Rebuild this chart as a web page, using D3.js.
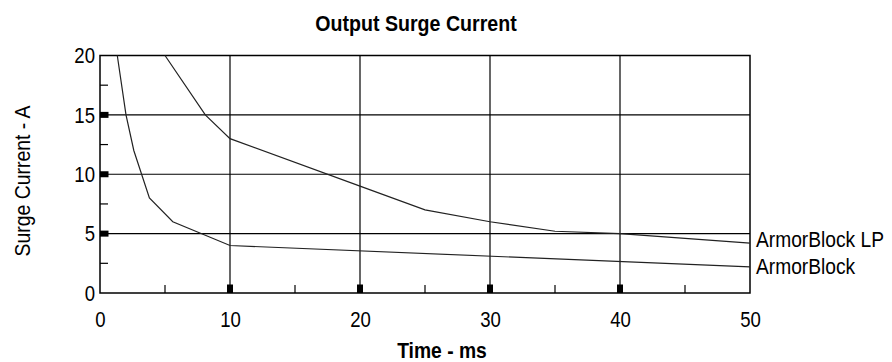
<!DOCTYPE html>
<html>
<head>
<meta charset="utf-8">
<script src="https://cdn.jsdelivr.net/npm/d3@7"></script>
<style>
  body { margin: 0; background: #fff; }
  text { font-family: "Liberation Sans", Arial, sans-serif; fill: #000; }
</style>
</head>
<body>
<figure id="surge" style="margin:0"></figure>
<script>
// values
const timeTicks = [0, 10, 20, 30, 40, 50];
const minorTimeTicks = [5, 15, 25, 35, 45];
const currentTicks = [0, 5, 10, 15, 20];
const minorCurrentTicks = [2.5, 7.5, 12.5, 17.5];

const lpTime =    [5, 8.1, 10, 20, 25, 30, 35, 40, 50];
const lpCurrent = [20, 15, 13, 9, 7, 6, 5.2, 5, 4.2];

const abTime =    [1.33, 2.0, 2.6, 3.8, 5.6, 10, 50];
const abCurrent = [20, 15, 12, 8, 6, 4, 2.2];

const seriesNames = ["ArmorBlock LP", "ArmorBlock"];

const width = 892, height = 362;
const plotLeft = 100, plotRight = 750, plotTop = 55.5, plotBottom = 293;
const stretch = 1.15; // tall, condensed look of the original lettering

const svg = d3.select("figure#surge")
  .append("svg")
  .attr("width", width)
  .attr("height", height);

const x = d3.scaleLinear().domain([0, 50]).range([plotLeft, plotRight]);
const y = d3.scaleLinear().domain([0, 20]).range([plotBottom, plotTop]);

// gridlines
svg.append("g").selectAll("line")
  .data(timeTicks.slice(1, -1))
  .enter().append("line")
  .attr("x1", d => x(d)).attr("x2", d => x(d))
  .attr("y1", plotTop).attr("y2", plotBottom)
  .attr("stroke", "#000").attr("stroke-width", 1.2);

svg.append("g").selectAll("line")
  .data(currentTicks.slice(1, -1))
  .enter().append("line")
  .attr("x1", plotLeft).attr("x2", plotRight)
  .attr("y1", d => y(d)).attr("y2", d => y(d))
  .attr("stroke", "#000").attr("stroke-width", 1.2);

// frame
svg.append("rect")
  .attr("x", plotLeft).attr("y", plotTop)
  .attr("width", plotRight - plotLeft).attr("height", plotBottom - plotTop)
  .attr("fill", "none").attr("stroke", "#000").attr("stroke-width", 1.5);

// minor ticks (inside)
svg.append("g").selectAll("line")
  .data(minorTimeTicks)
  .enter().append("line")
  .attr("x1", d => x(d)).attr("x2", d => x(d))
  .attr("y1", plotBottom).attr("y2", plotBottom - 8)
  .attr("stroke", "#000").attr("stroke-width", 1.2);

svg.append("g").selectAll("line")
  .data(minorCurrentTicks)
  .enter().append("line")
  .attr("x1", plotLeft).attr("x2", plotLeft + 8)
  .attr("y1", d => y(d)).attr("y2", d => y(d))
  .attr("stroke", "#000").attr("stroke-width", 1.2);

// major tick blocks
svg.append("g").selectAll("rect")
  .data(timeTicks.slice(1, -1))
  .enter().append("rect")
  .attr("x", d => x(d) - 3).attr("y", plotBottom - 8.5)
  .attr("width", 6).attr("height", 8.5)
  .attr("fill", "#000");

svg.append("g").selectAll("rect")
  .data(currentTicks.slice(1, -1))
  .enter().append("rect")
  .attr("x", plotLeft).attr("y", d => y(d) - 3)
  .attr("width", 8.5).attr("height", 6)
  .attr("fill", "#000");

// axes labels through d3 axes, then stretched vertically
const xAxis = svg.append("g")
  .attr("transform", "translate(0," + plotBottom + ")")
  .call(d3.axisBottom(x).tickValues(timeTicks).tickSize(0));
xAxis.select(".domain").remove();
xAxis.selectAll("text")
  .attr("y", null).attr("dy", null)
  .attr("font-size", 18.6)
  .attr("transform", "translate(0,33.5) scale(1," + stretch + ")")
  .style("font-family", "Liberation Sans, Arial, sans-serif");

const yAxis = svg.append("g")
  .attr("transform", "translate(" + plotLeft + ",0)")
  .call(d3.axisLeft(y).tickValues(currentTicks).tickSize(0));
yAxis.select(".domain").remove();
yAxis.selectAll("text")
  .attr("x", null).attr("dy", null)
  .attr("font-size", 18.6)
  .attr("transform", "translate(-5,7.2) scale(1," + stretch + ")")
  .style("font-family", "Liberation Sans, Arial, sans-serif");

// series
const line = d3.line().x(d => x(d[0])).y(d => y(d[1]));
const series = [
  d3.zip(lpTime, lpCurrent),
  d3.zip(abTime, abCurrent)
];

svg.append("g").selectAll("path")
  .data(series)
  .enter().append("path")
  .attr("d", line)
  .attr("fill", "none")
  .attr("stroke", "#222")
  .attr("stroke-width", 1.2);

// series labels at the right end
const labelShift = [3.6, 7.1];
const endValues = [lpCurrent[lpCurrent.length - 1], abCurrent[abCurrent.length - 1]];
svg.append("g").selectAll("text")
  .data(seriesNames)
  .enter().append("text")
  .attr("transform", (d, i) => "translate(" + (plotRight + 6) + "," + (y(endValues[i]) + labelShift[i]) + ") scale(1," + stretch + ")")
  .attr("font-size", 19.2)
  .text(d => d);

// titles
svg.append("text")
  .attr("transform", "translate(416,31) scale(1," + stretch + ")")
  .attr("text-anchor", "middle")
  .attr("font-size", 19.6).attr("font-weight", "bold")
  .text("Output Surge Current");

svg.append("text")
  .attr("transform", "translate(442,358) scale(1," + stretch + ")")
  .attr("text-anchor", "middle")
  .attr("font-size", 19.3).attr("font-weight", "bold")
  .text("Time - ms");

svg.append("text")
  .attr("transform", "translate(30,181) rotate(-90) scale(1," + stretch + ")")
  .attr("text-anchor", "middle")
  .attr("font-size", 19.4)
  .text("Surge Current - A");
</script>
</body>
</html>
